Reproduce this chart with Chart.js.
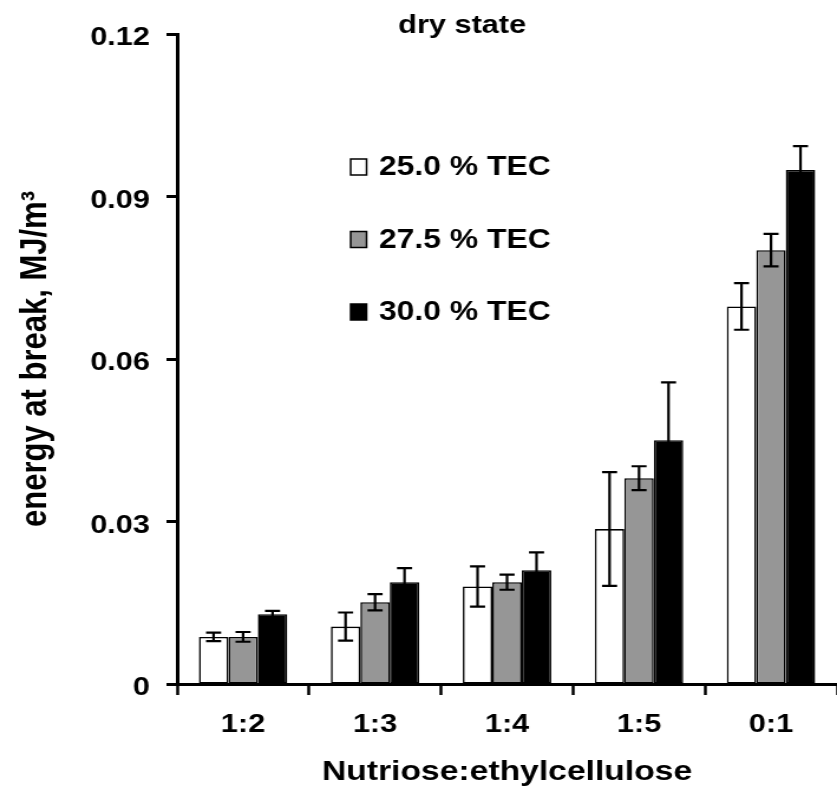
<!DOCTYPE html>
<html>
<head>
<meta charset="utf-8">
<title>dry state</title>
<script src="https://cdn.jsdelivr.net/npm/chart.js@4/dist/chart.umd.min.js"></script>
<style>
  html, body { margin: 0; padding: 0; background: #fff; }
</style>
</head>
<body>
<!-- drawing buffer is narrower than the box: text comes out wide, like the source figure -->
<canvas id="chart" width="709" height="792" style="display:block;width:837px;height:792px"></canvas>
<script>
const categories = ['1:2', '1:3', '1:4', '1:5', '0:1'];
const seriesLabels = ['25.0 % TEC', '27.5 % TEC', '30.0 % TEC'];

const tec250 = [0.0087, 0.0106, 0.0180, 0.0286, 0.0697];
const tec275 = [0.0087, 0.0151, 0.0188, 0.0380, 0.0801];
const tec300 = [0.0129, 0.0188, 0.0210, 0.0450, 0.0949];

const err250 = [0.0008, 0.0026, 0.0037, 0.0105, 0.0043];
const err275 = [0.0009, 0.0015, 0.0014, 0.0022, 0.0030];
const err300 = [0.0006, 0.0026, 0.0033, 0.0107, 0.0044];

const yTicks = [0, 0.03, 0.06, 0.09, 0.12];

const FONT = "'Liberation Sans', Arial, sans-serif";

// error bars, drawn from the y scale
const errorBars = {
    id: 'errorBars',
    afterDatasetsDraw(chart, args, opts) {
        const ctx = chart.ctx;
        const y = chart.scales.y;
        ctx.save();
        ctx.strokeStyle = '#000';
        ctx.lineWidth = opts.lineWidth;
        chart.data.datasets.forEach((ds, i) => {
            chart.getDatasetMeta(i).data.forEach((bar, j) => {
                const v = ds.data[j], e = ds.errors[j];
                const top = y.getPixelForValue(v + e);
                const bot = y.getPixelForValue(v - e);
                ctx.beginPath();
                ctx.moveTo(bar.x, top); ctx.lineTo(bar.x, bot);
                ctx.moveTo(bar.x - opts.cap, top); ctx.lineTo(bar.x + opts.cap, top);
                ctx.moveTo(bar.x - opts.cap, bot); ctx.lineTo(bar.x + opts.cap, bot);
                ctx.stroke();
            });
        });
        ctx.restore();
    }
};

// legend sits inside the plot, one item per row
const insideLegend = {
    id: 'insideLegend',
    afterDraw(chart, args, o) {
        const ctx = chart.ctx;
        ctx.save();
        ctx.font = 'bold ' + o.size + 'px ' + FONT;
        ctx.textBaseline = 'middle';
        chart.data.datasets.forEach((ds, i) => {
            const cy = o.y + i * o.gap;
            ctx.fillStyle = ds.backgroundColor;
            ctx.fillRect(o.x, cy - o.boxH / 2, o.boxW, o.boxH);
            ctx.lineWidth = 1.5;
            ctx.strokeStyle = '#000';
            ctx.strokeRect(o.x, cy - o.boxH / 2, o.boxW, o.boxH);
            ctx.fillStyle = '#000';
            ctx.fillText(ds.label, o.textX, cy + 1);
        });
        ctx.restore();
    }
};

const topTitle = {
    id: 'topTitle',
    afterDraw(chart, args, o) {
        const ctx = chart.ctx;
        ctx.save();
        ctx.font = 'bold ' + o.size + 'px ' + FONT;
        ctx.fillStyle = '#000';
        ctx.textAlign = 'center';
        ctx.textBaseline = 'alphabetic';
        ctx.fillText(o.text, o.x, o.y);
        ctx.restore();
    }
};

const barStyle = { borderColor: '#000', borderWidth: 1.6, borderSkipped: false };

new Chart(document.getElementById('chart'), {
    type: 'bar',
    data: {
        labels: categories,
        datasets: [
            { label: seriesLabels[0], data: tec250, errors: err250, backgroundColor: '#ffffff', ...barStyle },
            { label: seriesLabels[1], data: tec275, errors: err275, backgroundColor: '#969696', ...barStyle },
            { label: seriesLabels[2], data: tec300, errors: err300, backgroundColor: '#000000', ...barStyle }
        ]
    },
    options: {
        responsive: false,
        devicePixelRatio: 1,
        animation: false,
        categoryPercentage: 0.67,
        barPercentage: 1.0,
        layout: { padding: { top: 34, right: 0, bottom: 0, left: 0 } },
        plugins: {
            legend: { display: false },
            tooltip: { enabled: false },
            errorBars: { lineWidth: 2.2, cap: 6.4 },
            insideLegend: { x: 297, y: 167, gap: 72.5, boxW: 13.5, boxH: 16, textX: 321, size: 27 },
            topTitle: { text: 'dry state', x: 391.5, y: 33, size: 26 }
        },
        scales: {
            x: {
                grid: { drawOnChartArea: false, tickLength: 11, tickWidth: 2.5, tickColor: '#000' },
                border: { color: '#000', width: 3 },
                ticks: { color: '#000', padding: 14, maxRotation: 0, font: { family: FONT, size: 26, weight: 'bold' } },
                title: {
                    display: true, text: 'Nutriose:ethylcellulose', color: '#000',
                    font: { family: FONT, size: 28.5, weight: 'bold' }, padding: { top: 0, bottom: 3 }
                },
                afterFit(scale) { scale.height = 108; }
            },
            y: {
                min: 0, max: 0.12,
                afterBuildTicks(scale) { scale.ticks = yTicks.map(v => ({ value: v })); },
                grid: { drawOnChartArea: false, tickLength: 9, tickWidth: 3, tickColor: '#000' },
                border: { color: '#000', width: 3 },
                ticks: {
                    color: '#000', padding: 14, labelOffset: 4,
                    font: { family: FONT, size: 26, weight: 'bold' },
                    callback: v => v === 0 ? '0' : v.toFixed(2)
                },
                title: {
                    display: true, text: 'energy at break, MJ/m³', color: '#000',
                    font: { family: FONT, size: 31, weight: 'bold' }, padding: { top: 12, bottom: 0 }
                },
                afterFit(scale) { scale.width = 150; }
            }
        }
    },
    plugins: [errorBars, insideLegend, topTitle]
});
</script>
</body>
</html>
